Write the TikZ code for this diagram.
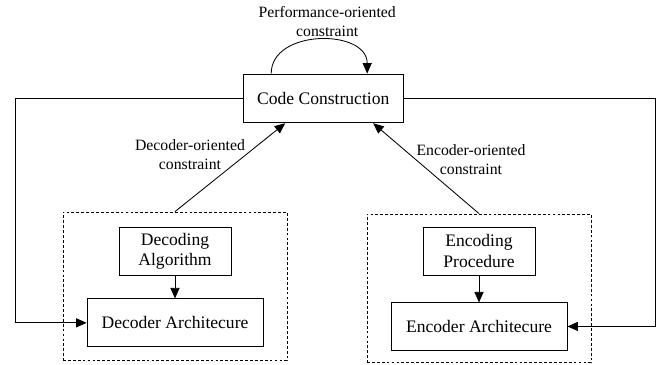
\documentclass[tikz,border=0pt]{standalone}
\usepackage{fontspec}
\setmainfont{Liberation Serif}
\usetikzlibrary{positioning,arrows.meta}

\begin{document}
\begin{tikzpicture}[line width=0.6pt,
  every node/.style={align=center},
  block/.style={draw, font=\fontsize{12.5}{14.5}\selectfont, minimum height=1.2cm, inner sep=2pt},
  group/.style={draw, dashed, dash pattern=on 2pt off 1.5pt, minimum width=5.6cm, minimum height=3.72cm},
  note/.style={font=\fontsize{11.2}{13.5}\selectfont},
  >={Triangle[length=7.5pt,width=6.5pt]}]
\useasboundingbox (0,0) rectangle (16.8,-9.125);
\node[block, minimum width=4cm, minimum height=1.22cm] (code) at (8.08,-2.46) {Code Construction};
\node[note] (perf) at (8.18,-0.54) {Performance-oriented\\constraint};
\node[group] (dec) at (4.375,-7.16) {};
\node[group] (enc) at (11.975,-7.21) {};
\node[block, minimum width=2.8cm] (decalg) at (4.375,-6.275) {Decoding\\Algorithm};
\node[block, minimum width=4.4cm] (decarch) [below=0.575cm of decalg] {Decoder Architecure};
\node[block, minimum width=2.8cm] (encproc) at (11.975,-6.275) {Encoding\\Procedure};
\node[block, minimum width=4.4cm, minimum height=1.18cm] (encarch) [below=0.675cm of encproc] {Encoder Architecure};
\node[note] (declbl) at (4.75,-3.86) {Decoder-oriented\\constraint};
\node[note] (enclbl) at (11.775,-3.99) {Encoder-oriented\\constraint};
\coordinate (lft) at (0.375,0);
\coordinate (rgt) at (16.375,0);
% self loop
\draw[->] ([xshift=-1.3cm]code.north) to[out=90,in=90,looseness=1.2] ([xshift=1.1cm]code.north);
% constraints
\draw[->] (dec.north) -- ([xshift=-0.95cm]code.south);
\draw[->] (enc.north) -- ([xshift=1.25cm]code.south);
\draw[->] (decalg) -- (decarch);
\draw[->] (encproc) -- (encarch);
% feedback lines
\draw[->] (code.west) -- (code.west -| lft) |- (decarch.west);
\draw[->] (code.east) -- (code.east -| rgt) |- (encarch.east);
\end{tikzpicture}
\end{document}
